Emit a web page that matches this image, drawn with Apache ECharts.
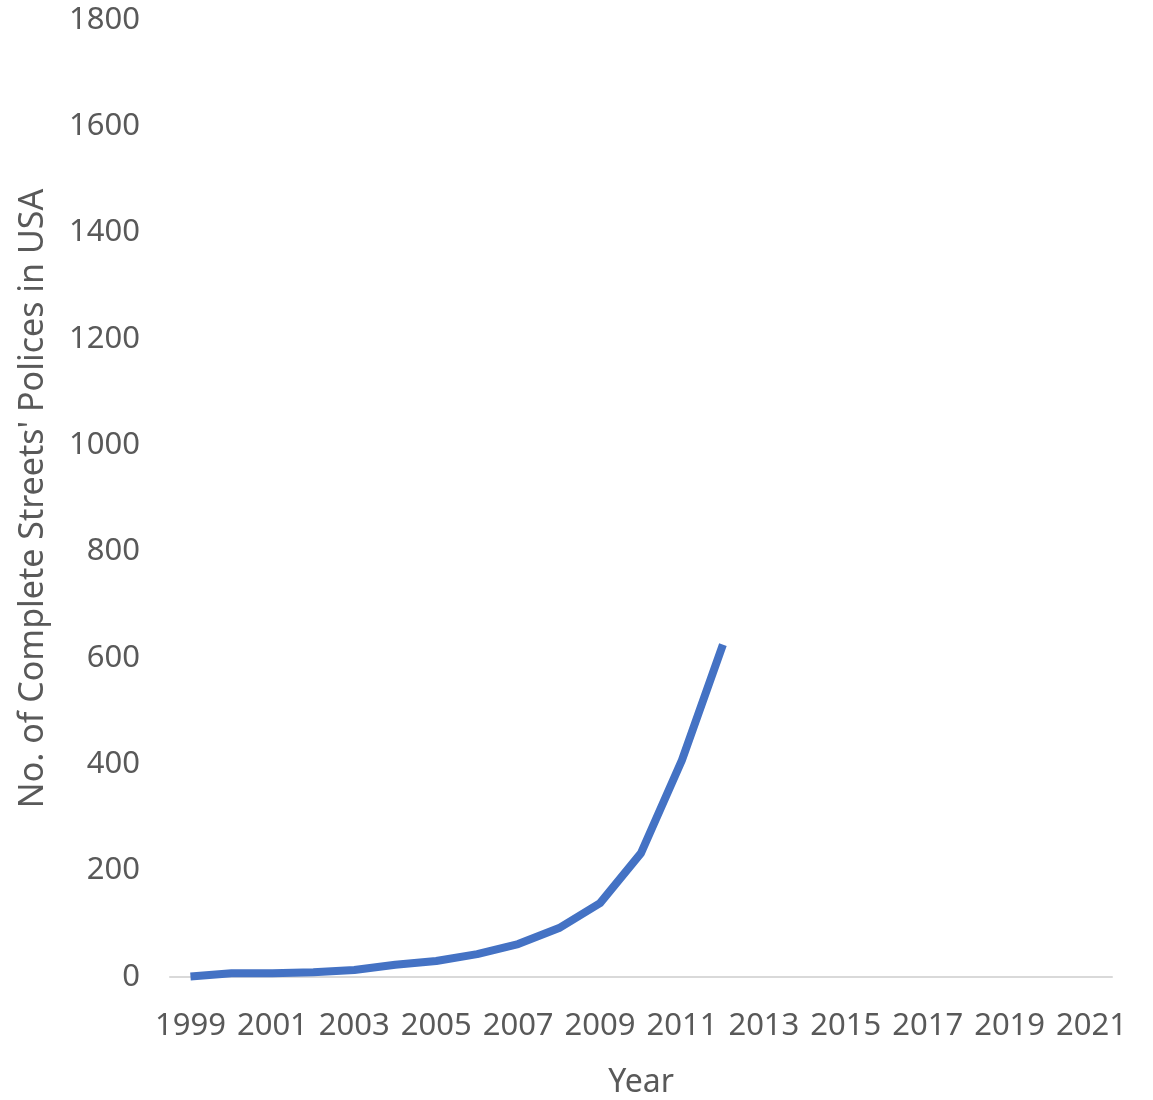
<!DOCTYPE html>
<html>
<head>
<meta charset="utf-8">
<script src="https://cdn.jsdelivr.net/npm/echarts@6/dist/echarts.min.js"></script>
<style>
    html, body { margin: 0; padding: 0; background: #fff; }
    #chart { width: 1153px; height: 1100px; }
</style>
</head>
<body>
<div id="chart"></div>
<script>
// years on the category axis
var years = ['1999', '2000', '2001', '2002', '2003', '2004', '2005', '2006', '2007', '2008', '2009',
    '2010', '2011', '2012', '2013', '2014', '2015', '2016', '2017', '2018', '2019', '2020', '2021'];
// policy counts (no data after 2012)
var policies = [1, 7, 7, 9, 13, 23, 30, 43, 62, 92, 139, 233, 408, 625];

(function() {
    var chart = echarts.init(document.getElementById('chart'));
    var textColor = '#595959';
    var font = 'Noto Sans';

    var option = {
        animation: false,
        grid: {
            left: 170,
            right: 41,
            top: 20,
            bottom: 123,
            outerBoundsMode: 'none'
        },
        xAxis: {
            type: 'category',
            data: years,
            boundaryGap: true,
            name: 'Year',
            nameLocation: 'middle',
            nameGap: 90,
            nameTextStyle: { color: textColor, fontSize: 32, fontFamily: font },
            axisLine: { lineStyle: { color: '#d9d9d9', width: 2 } },
            axisTick: { show: false },
            axisLabel: {
                interval: 1,
                margin: 34,
                color: textColor,
                fontSize: 31,
                fontFamily: font
            }
        },
        yAxis: {
            type: 'value',
            min: 0,
            max: 1800,
            interval: 200,
            name: 'No. of Complete Streets\' Polices in USA',
            nameLocation: 'middle',
            nameGap: 120,
            nameTextStyle: { color: textColor, fontSize: 34, fontFamily: font },
            axisLine: { show: false },
            axisTick: { show: false },
            splitLine: { show: false },
            axisLabel: {
                margin: 30,
                color: textColor,
                fontSize: 31,
                fontFamily: font,
                formatter: function(v) { return String(v); }
            }
        },
        series: [
            {
                type: 'line',
                data: policies,
                showSymbol: false,
                lineStyle: { color: '#4472c4', width: 8, join: 'round' }
            }
        ]
    };

    chart.setOption(option);
})();
</script>
</body>
</html>
